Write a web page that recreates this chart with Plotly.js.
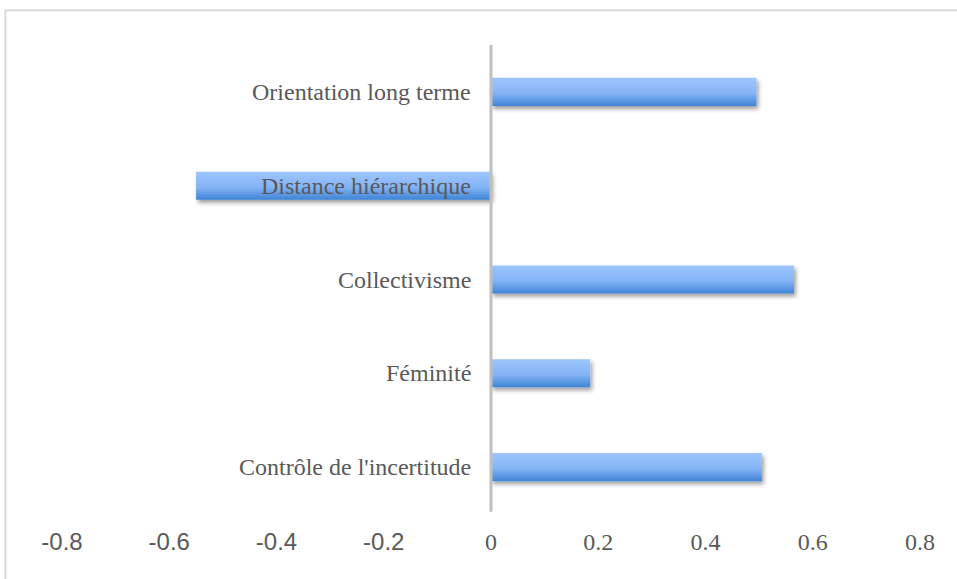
<!DOCTYPE html>
<html>
<head>
<meta charset="utf-8">
<script src="https://cdn.plot.ly/plotly-3.0.1.min.js"></script>
<style>
  html, body { margin: 0; padding: 0; background: #ffffff; }
  #chart { width: 957px; height: 579px; }
</style>
</head>
<body>
<div id="chart"></div>
<script>
// Hofstede dimensions, listed from bottom to top
const dimensions = [
  "Contrôle de l'incertitude",
  "Féminité",
  "Collectivisme",
  "Distance hiérarchique",
  "Orientation long terme"
];
const scores = [0.505, 0.185, 0.565, -0.55, 0.495];

const tickValues = [-0.8, -0.6, -0.4, -0.2, 0, 0.2, 0.4, 0.6, 0.8];
const tickLabels = ["-0.8", "-0.6", "-0.4", "-0.2", "0", "0.2", "0.4", "0.6", "0.8"];

const serif = "'Liberation Serif', 'Times New Roman', serif";
const sans = "'Liberation Sans', Arial, sans-serif";
const grey = "#595959";

// negative ticks use a sans face, the rest stay serif
const tickText = tickLabels.map((t, i) =>
  tickValues[i] < 0 ? `<span style="font-family:${sans}">${t}</span>` : t
);

const trace = {
  type: "bar",
  orientation: "h",
  x: scores,
  y: dimensions,
  marker: { color: "#74a9ef", line: { width: 0 } },
  hoverinfo: "x+y"
};

const labels = dimensions.map(d => ({
  x: 0, y: d, xref: "x", yref: "y",
  text: d, showarrow: false,
  xanchor: "right", yanchor: "middle",
  xshift: -18,
  font: { family: serif, size: 24, color: grey }
}));

const layout = {
  width: 957,
  height: 579,
  margin: { l: 62, r: 37, t: 45, b: 65 },
  paper_bgcolor: "#ffffff",
  plot_bgcolor: "#ffffff",
  showlegend: false,
  bargap: 0.7,
  font: { family: serif, size: 24, color: grey },
  xaxis: {
    range: [-0.8, 0.8],
    tickvals: tickValues,
    ticktext: tickText,
    showgrid: false,
    zeroline: false,
    showline: false,
    ticks: "",
    ticklabelstandoff: 11,
    tickfont: { family: serif, size: 24, color: grey }
  },
  yaxis: {
    type: "category",
    categoryorder: "array",
    categoryarray: dimensions,
    showticklabels: false,
    showgrid: false,
    zeroline: false,
    showline: false,
    ticks: ""
  },
  shapes: [
    // chart frame
    {
      type: "rect", xref: "paper", yref: "paper",
      x0: -0.066, x1: 1.2, y0: -0.5, y1: 1.074,
      line: { color: "#d9d9d9", width: 2 }, layer: "below"
    },
    // vertical axis at zero
    {
      type: "line", xref: "x", yref: "paper",
      x0: 0, x1: 0, y0: 0.005, y1: 1,
      line: { color: "#bfbfbf", width: 3 }, layer: "above"
    }
  ],
  annotations: labels
};

Plotly.newPlot("chart", [trace], layout, { displayModeBar: false, staticPlot: true }).then(gd => {
  // vertical blue gradient and a soft drop shadow on the bars
  const svg = gd.querySelector("svg.main-svg");
  const ns = "http://www.w3.org/2000/svg";
  let defs = svg.querySelector("defs");
  if (!defs) { defs = document.createElementNS(ns, "defs"); svg.insertBefore(defs, svg.firstChild); }

  const grad = document.createElementNS(ns, "linearGradient");
  grad.setAttribute("id", "barGrad");
  grad.setAttribute("x1", "0"); grad.setAttribute("y1", "0");
  grad.setAttribute("x2", "0"); grad.setAttribute("y2", "1");
  [["0", "#9ec5fd"], ["0.55", "#84b4f5"], ["1", "#3e84d6"]].forEach(([o, c]) => {
    const s = document.createElementNS(ns, "stop");
    s.setAttribute("offset", o);
    s.setAttribute("stop-color", c);
    grad.appendChild(s);
  });
  defs.appendChild(grad);

  const filt = document.createElementNS(ns, "filter");
  filt.setAttribute("id", "barShadow");
  filt.setAttribute("x", "-10%"); filt.setAttribute("y", "-30%");
  filt.setAttribute("width", "130%"); filt.setAttribute("height", "190%");
  const ds = document.createElementNS(ns, "feDropShadow");
  ds.setAttribute("dx", "2"); ds.setAttribute("dy", "3");
  ds.setAttribute("stdDeviation", "2.2");
  ds.setAttribute("flood-color", "#000000");
  ds.setAttribute("flood-opacity", "0.38");
  filt.appendChild(ds);
  defs.appendChild(filt);

  gd.querySelectorAll(".barlayer .point path").forEach(p => {
    p.style.fill = "url(#barGrad)";
    p.setAttribute("filter", "url(#barShadow)");
  });
});
</script>
</body>
</html>
